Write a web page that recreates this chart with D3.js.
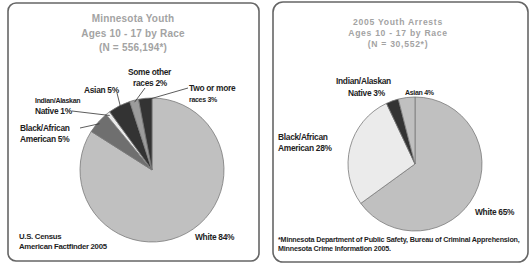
<!DOCTYPE html>
<html>
<head>
<meta charset="utf-8">
<script src="https://cdn.jsdelivr.net/npm/d3@7"></script>
<style>
  body { margin: 0; background: #fff; }
  svg text { font-family: "Liberation Sans Narrow", "Arial Narrow", "Liberation Sans", sans-serif; }
  .title { fill: #a3a3a3; font-weight: bold; font-family: "Liberation Sans", Arial, sans-serif !important; }
  .lbl { fill: #1e1e1e; font-size: 8.4px; font-weight: bold; letter-spacing: -0.3px; }
  .small { fill: #1e1e1e; font-size: 7px; font-weight: bold; letter-spacing: -0.3px; }
  .note { fill: #1e1e1e; font-size: 7.2px; font-weight: bold; letter-spacing: -0.2px; }
</style>
</head>
<body>
<div id="chart"></div>
<script>
// left chart: Minnesota youth population by race
var popRaces = ["White", "Black/African American", "Indian/Alaskan Native", "Asian", "Some other races", "Two or more races"];
var popShares = [84, 5, 1, 5, 2, 3];
var popColors = ["#c0c0c0", "#6f6f6f", "#ebebeb", "#333333", "#9c9c9c", "#333333"];

// right chart: 2005 youth arrests by race
var arrestRaces = ["White", "Black/African American", "Indian/Alaskan Native", "Asian"];
var arrestShares = [65, 28, 3, 4];
var arrestColors = ["#c0c0c0", "#ebebeb", "#333333", "#c0c0c0"];

var popTitle = ["Minnesota Youth", "Ages 10 - 17 by Race", "(N = 556,194*)"];
var arrestTitle = ["2005 Youth Arrests", "Ages 10 - 17 by Race", "(N = 30,552*)"];

var svg = d3.select("#chart").append("svg")
    .attr("width", 531)
    .attr("height", 265);

// panel frames
svg.append("rect").attr("x", 8).attr("y", 3).attr("width", 251).attr("height", 258)
    .attr("rx", 8).attr("fill", "none").attr("stroke", "#666").attr("stroke-width", 1.6);
svg.append("rect").attr("x", 273).attr("y", 2).attr("width", 255).attr("height", 260)
    .attr("rx", 10).attr("fill", "none").attr("stroke", "#666").attr("stroke-width", 1.6);

var pie = d3.pie().sort(null);

function drawPie(cx, cy, r, values, colors) {
    var arcs = pie(values);
    var arc = d3.arc().innerRadius(0).outerRadius(r);
    var g = svg.append("g").attr("transform", "translate(" + cx + "," + cy + ")");
    g.selectAll("path")
        .data(arcs)
        .enter()
        .append("path")
        .attr("d", arc)
        .attr("fill", function (d, i) { return colors[i]; })
        .attr("stroke", "#7a7a7a")
        .attr("stroke-width", 0.8);
    return arcs;
}

function drawTitle(x, ys, lines, size, spacing) {
    svg.selectAll(null)
        .data(lines)
        .enter()
        .append("text")
        .attr("class", "title")
        .attr("x", x)
        .attr("y", function (d, i) { return ys[i]; })
        .attr("text-anchor", "middle")
        .style("font-size", size + "px")
        .style("letter-spacing", spacing + "px")
        .text(function (d) { return d; });
}

function label(x, y, lines, cls) {
    var t = svg.append("text").attr("class", cls || "lbl").attr("x", x).attr("y", y);
    lines.forEach(function (s, i) {
        t.append("tspan").attr("x", x).attr("dy", i === 0 ? 0 : "1.3em").text(s);
    });
}

// point on the rim of a slice, at its middle angle
function rim(cx, cy, r, d) {
    var a = (d.startAngle + d.endAngle) / 2;
    return [cx + r * Math.sin(a), cy - r * Math.cos(a)];
}

function leader(x, y, p) {
    svg.append("line")
        .attr("x1", x).attr("y1", y)
        .attr("x2", p[0]).attr("y2", p[1])
        .attr("stroke", "#333").attr("stroke-width", 0.8);
}

// ---- left panel
var lcx = 152, lcy = 170, lr = 72;
drawTitle(133, [22, 37, 51], popTitle, 10, 0.2);
var la = drawPie(lcx, lcy, lr, popShares, popColors);

label(20, 131, ["Black/African", "American " + popShares[1] + "%"]);
leader(80, 128, rim(lcx, lcy, lr - 2, la[1]));
label(35, 103, ["Indian/Alaskan"], "small");
label(35, 114, ["Native " + popShares[2] + "%"]);
leader(72, 111, rim(lcx, lcy, lr - 3, la[2]));
label(84, 93, ["Asian " + popShares[3] + "%"]);
leader(117, 93, rim(lcx, lcy, lr - 4, la[3]));
label(128, 75, ["Some other"]);
label(133, 86, ["races " + popShares[4] + "%"]);
leader(145, 88, rim(lcx, lcy, lr - 2, la[4]));
label(189, 91, ["Two or more"]);
label(189, 102, ["races " + popShares[5] + "%"], "small");
leader(188, 88, rim(lcx, lcy, lr - 2, la[5]));
label(195, 240, ["White " + popShares[0] + "%"]);
var src = svg.append("text").attr("class", "lbl").attr("x", 19).attr("y", 239).style("font-size", "7.8px");
src.append("tspan").attr("x", 19).text("U.S. Census");
src.append("tspan").attr("x", 19).attr("dy", "1.25em").text("American Factfinder 2005");

// ---- right panel
var rcx = 415, rcy = 164, rr = 67;
drawTitle(398, [25, 36, 47], arrestTitle, 8.6, 0.7);
drawPie(rcx, rcy, rr, arrestShares, arrestColors);

label(336, 84, ["Indian/Alaskan"]);
label(348, 96, ["Native " + arrestShares[2] + "%"]);
label(405, 95, ["Asian " + arrestShares[3] + "%"], "small");
label(278, 140, ["Black/African", "American " + arrestShares[1] + "%"]);
label(475, 215, ["White " + arrestShares[0] + "%"]);
label(278, 242, ["*Minnesota Department of Public Safety, Bureau of Criminal Apprehension,", "Minnesota Crime Information 2005."], "note");
</script>
</body>
</html>
